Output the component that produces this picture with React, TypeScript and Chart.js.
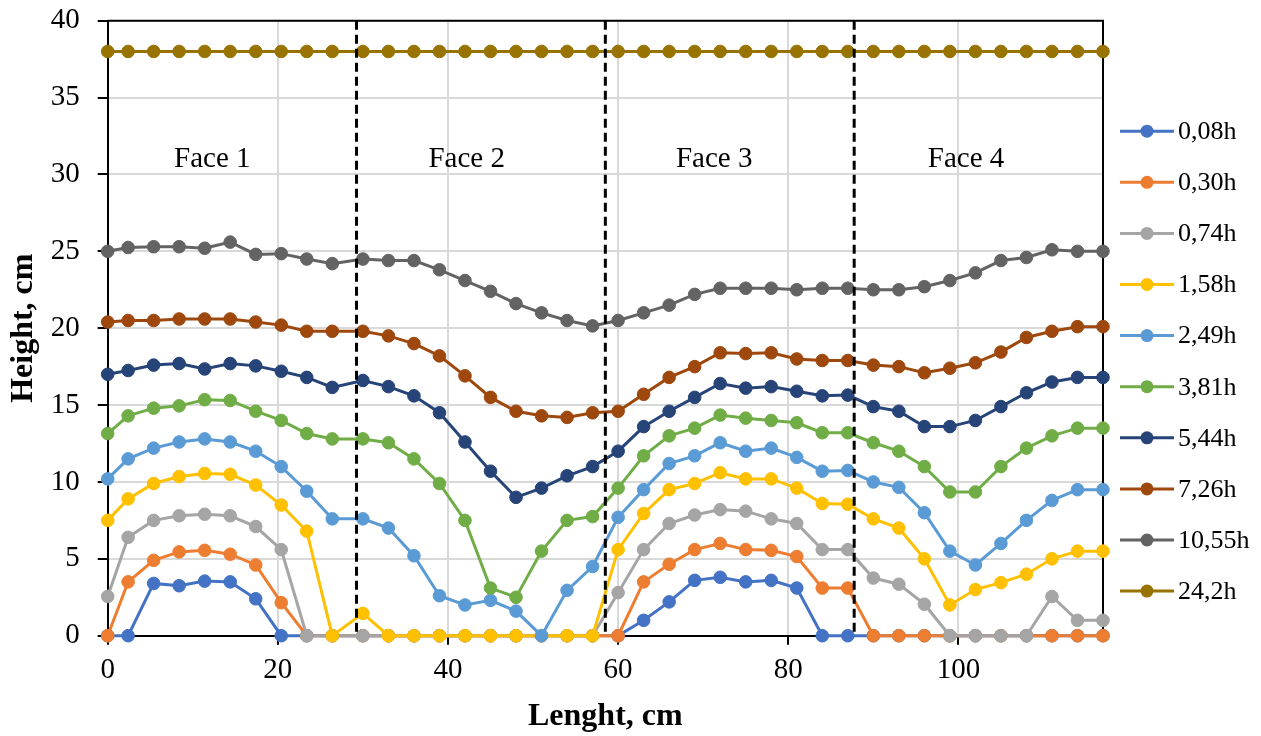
import React, { useEffect, useRef } from "react";
import { Chart, registerables } from "chart.js";

Chart.register(...registerables);

// ---- Data ----
const lengths = [
  0, 2.4, 5.4, 8.4, 11.4, 14.4, 17.4, 20.4, 23.4, 26.4,
  30, 33, 36, 39, 42, 45, 48, 51, 54, 57,
  60, 63, 66, 69, 72, 75, 78, 81, 84, 87,
  90, 93, 96, 99, 102, 105, 108, 111, 114, 117,
];

const seriesLabels = ["0,08h", "0,30h", "0,74h", "1,58h", "2,49h", "3,81h", "5,44h", "7,26h", "10,55h", "24,2h"];
const seriesColors = ["#4472C4", "#ED7D31", "#A5A5A5", "#FFC000", "#5B9BD5", "#70AD47", "#264478", "#9E480E", "#636363", "#997300"];

const h008 = [
  0, 0, 3.4, 3.25, 3.55, 3.5, 2.4, 0, 0, 0,
  0, 0, 0, 0, 0, 0, 0, 0, 0, 0,
  0, 1.0, 2.2, 3.6, 3.8, 3.5, 3.6, 3.1, 0, 0,
  0, 0, 0, 0, 0, 0, 0, 0, 0, 0,
];
const h030 = [
  0, 3.5, 4.9, 5.45, 5.55, 5.3, 4.6, 2.15, 0, 0,
  0, 0, 0, 0, 0, 0, 0, 0, 0, 0,
  0, 3.5, 4.65, 5.6, 6.0, 5.6, 5.55, 5.15, 3.1, 3.1,
  0, 0, 0, 0, 0, 0, 0, 0, 0, 0,
];
const h074 = [
  2.55, 6.4, 7.5, 7.8, 7.9, 7.8, 7.1, 5.6, 0, 0,
  0, 0, 0, 0, 0, 0, 0, 0, 0, 0,
  2.8, 5.6, 7.3, 7.85, 8.2, 8.1, 7.6, 7.3, 5.6, 5.6,
  3.75, 3.35, 2.05, 0, 0, 0, 0, 2.55, 1.0, 1.0,
];
const h158 = [
  7.5, 8.9, 9.9, 10.35, 10.55, 10.5, 9.8, 8.5, 6.8, 0,
  1.45, 0, 0, 0, 0, 0, 0, 0, 0, 0,
  5.6, 7.95, 9.5, 9.9, 10.6, 10.2, 10.2, 9.6, 8.6, 8.55,
  7.6, 7.0, 5.0, 2.0, 3.0, 3.45, 4.0, 5.0, 5.5, 5.5,
];
const h249 = [
  10.2, 11.5, 12.2, 12.6, 12.8, 12.6, 12.0, 11.0, 9.4, 7.6,
  7.6, 7.0, 5.2, 2.6, 2.0, 2.3, 1.6, 0, 2.95, 4.5,
  7.7, 9.5, 11.2, 11.7, 12.55, 12.0, 12.2, 11.6, 10.7, 10.75,
  10.0, 9.65, 8.0, 5.5, 4.6, 6.0, 7.5, 8.8, 9.5, 9.5,
];
const h381 = [
  13.15, 14.3, 14.8, 14.95, 15.35, 15.3, 14.6, 14.0, 13.15, 12.8,
  12.8, 12.55, 11.5, 9.9, 7.5, 3.1, 2.5, 5.5, 7.5, 7.75,
  9.6, 11.7, 13.0, 13.5, 14.35, 14.15, 14.0, 13.85, 13.2, 13.2,
  12.55, 12.0, 11.0, 9.35, 9.35, 11.0, 12.2, 13.0, 13.5, 13.5,
];
const h544 = [
  17.0, 17.25, 17.6, 17.7, 17.35, 17.7, 17.55, 17.2, 16.8, 16.15,
  16.6, 16.2, 15.6, 14.5, 12.6, 10.7, 9.0, 9.6, 10.4, 11.0,
  12.0, 13.6, 14.6, 15.5, 16.4, 16.1, 16.2, 15.9, 15.6, 15.65,
  14.9, 14.6, 13.6, 13.6, 14.0, 14.9, 15.8, 16.5, 16.8, 16.8,
];
const h726 = [
  20.4, 20.5, 20.5, 20.6, 20.6, 20.6, 20.4, 20.2, 19.8, 19.8,
  19.8, 19.5, 19.0, 18.2, 16.9, 15.5, 14.6, 14.3, 14.2, 14.5,
  14.6, 15.7, 16.8, 17.5, 18.4, 18.35, 18.4, 18.0, 17.9, 17.9,
  17.6, 17.5, 17.1, 17.4, 17.75, 18.45, 19.4, 19.8, 20.1, 20.1,
];
const h1055 = [
  25.0, 25.25, 25.3, 25.3, 25.2, 25.6, 24.8, 24.85, 24.5, 24.2,
  24.5, 24.4, 24.4, 23.8, 23.1, 22.4, 21.6, 21.0, 20.5, 20.15,
  20.5, 21.0, 21.5, 22.2, 22.6, 22.6, 22.6, 22.5, 22.6, 22.6,
  22.5, 22.5, 22.7, 23.1, 23.6, 24.4, 24.6, 25.1, 25.0, 25.0,
];
const h242 = [
  38, 38, 38, 38, 38, 38, 38, 38, 38, 38,
  38, 38, 38, 38, 38, 38, 38, 38, 38, 38,
  38, 38, 38, 38, 38, 38, 38, 38, 38, 38,
  38, 38, 38, 38, 38, 38, 38, 38, 38, 38,
];
const seriesValues = [h008, h030, h074, h158, h249, h381, h544, h726, h1055, h242];

const xTickValues = [0, 20, 40, 60, 80, 100];
const faceLabels = ["Face 1", "Face 2", "Face 3", "Face 4"];
const faceLabelX = [12.3, 42.2, 71.3, 100.9];
const faceLabelY = 31;
const faceBoundaries = [29.25, 58.5, 87.75];

const SERIF = '"Liberation Serif", "Times New Roman", serif';

const overlayPlugin = {
  id: "overlay",
  beforeDatasetsDraw(chart: any) {
    const { ctx, chartArea: a } = chart;
    ctx.save();
    ctx.strokeStyle = "#000";
    ctx.lineWidth = 2;
    ctx.beginPath();
    ctx.moveTo(a.left, a.top);
    ctx.lineTo(a.right, a.top);
    ctx.lineTo(a.right, a.bottom);
    ctx.stroke();
    ctx.restore();
  },
  afterDatasetsDraw(chart: any) {
    const { ctx, chartArea: a, scales } = chart;
    const x = scales.x;
    const y = scales.y;
    ctx.save();
    ctx.strokeStyle = "#000";
    ctx.lineWidth = 3;
    ctx.setLineDash([9, 5]);
    for (const b of faceBoundaries) {
      const px = x.getPixelForValue(b);
      ctx.beginPath();
      ctx.moveTo(px, a.top);
      ctx.lineTo(px, a.bottom);
      ctx.stroke();
    }
    ctx.setLineDash([]);
    ctx.fillStyle = "#000";
    ctx.font = `29px ${SERIF}`;
    ctx.textAlign = "center";
    ctx.textBaseline = "middle";
    faceLabels.forEach((t, i) => {
      ctx.fillText(t, x.getPixelForValue(faceLabelX[i]), y.getPixelForValue(faceLabelY));
    });
    ctx.restore();
  },
  afterDraw(chart: any) {
    const { ctx, chartArea: a } = chart;
    ctx.save();
    ctx.font = `26px ${SERIF}`;
    ctx.textAlign = "left";
    ctx.textBaseline = "middle";
    seriesLabels.forEach((label, i) => {
      const cy = a.top + 110.5 + i * 51.1;
      const x0 = a.right + 17;
      ctx.strokeStyle = seriesColors[i];
      ctx.lineWidth = 3;
      ctx.beginPath();
      ctx.moveTo(x0, cy);
      ctx.lineTo(x0 + 54, cy);
      ctx.stroke();
      ctx.fillStyle = seriesColors[i];
      ctx.beginPath();
      ctx.arc(x0 + 27, cy, 6.5, 0, Math.PI * 2);
      ctx.fill();
      ctx.fillStyle = "#000";
      ctx.fillText(label, x0 + 58, cy + 1);
    });
    ctx.restore();
  },
};

export default function App() {
  const ref = useRef<HTMLCanvasElement>(null);

  useEffect(() => {
    if (!ref.current) return;
    Chart.defaults.font.family = SERIF;
    const datasets = seriesLabels.map((label, i) => ({
      label,
      data: lengths.map((xv, k) => ({ x: xv, y: seriesValues[i][k] })),
      borderColor: seriesColors[i],
      backgroundColor: seriesColors[i],
      pointBackgroundColor: seriesColors[i],
      pointBorderColor: seriesColors[i],
      borderWidth: 3,
      pointRadius: 6.3,
      pointBorderWidth: 1,
      tension: 0,
      clip: false as any,
      order: -i,
    }));
    const chart = new Chart(ref.current, {
      type: "line",
      data: { datasets },
      plugins: [overlayPlugin],
      options: {
        animation: false,
        responsive: false,
        layout: { padding: { left: 0, top: 20.7, right: 158, bottom: 0 } },
        plugins: { legend: { display: false }, tooltip: { enabled: false } },
        scales: {
          x: {
            type: "linear",
            min: 0,
            max: 117,
            afterBuildTicks: (s: any) => {
              s.ticks = xTickValues.map((v) => ({ value: v }));
            },
            afterFit: (s: any) => {
              s.height = 100.3;
              s.paddingLeft = 0;
              s.paddingRight = 0;
            },
            grid: { color: "#d9d9d9", lineWidth: 2, tickColor: "#000", tickLength: 9, tickWidth: 2 },
            border: { color: "#000", width: 2 },
            ticks: { color: "#000", font: { size: 29 }, padding: 8, maxRotation: 0 },
            title: { display: true, text: "Lenght, cm", color: "#000", font: { size: 32, weight: "bold" }, padding: 0 },
          },
          y: {
            type: "linear",
            min: 0,
            max: 40,
            afterFit: (s: any) => {
              s.width = 107.7;
              s.paddingTop = 0;
              s.paddingBottom = 0;
            },
            grid: { color: "#d9d9d9", lineWidth: 2, tickColor: "#000", tickLength: 10, tickWidth: 2 },
            border: { color: "#000", width: 2 },
            ticks: { color: "#000", font: { size: 29 }, padding: 18, stepSize: 5 },
            title: { display: true, text: "Height, cm", color: "#000", font: { size: 32, weight: "bold" }, padding: { top: 5, bottom: 0 } },
          },
        },
      } as any,
    });
    return () => chart.destroy();
  }, []);

  return (
    <div style={{ position: "fixed", left: 0, top: 0, width: 1261, height: 736, background: "#fff" }}>
      <canvas ref={ref} width={1261} height={736} />
    </div>
  );
}
